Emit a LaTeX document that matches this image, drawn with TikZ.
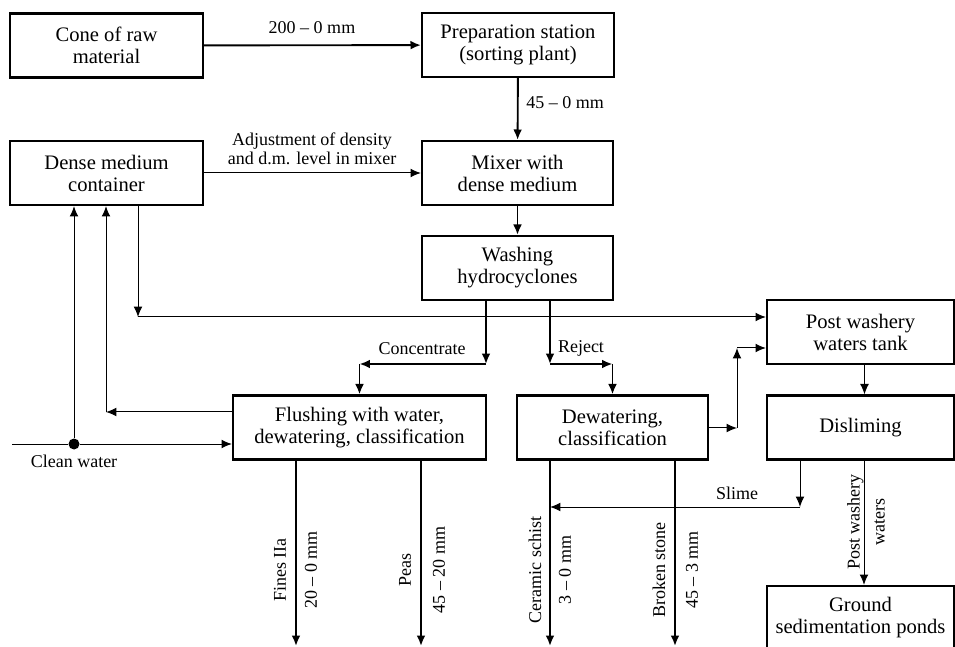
\documentclass[tikz,border=0pt]{standalone}
\usepackage{fontspec}
\setmainfont{Liberation Serif}
\usetikzlibrary{arrows.meta}

\tikzset{
	kasten/.style={draw,line width=1.1pt,minimum width=#1,minimum height=32pt,inner sep=1pt,align=center,font=\fontsize{10.3}{11}\selectfont},
	schrift/.style={inner sep=1pt,align=center,font=\fontsize{9}{9.5}\selectfont},
	duenn/.style={line width=0.5pt},
	punkt/.style={circle,fill,inner sep=0pt,minimum size=5.5pt},
}

\begin{document}
\begin{tikzpicture}[>={Latex[length=5.2pt,width=4.4pt]},line width=0.95pt,x=0.5pt,y=-0.5pt]

\clip (0,0) rectangle (955,647);

\node[kasten=96.5pt] (cone) at (106.5,45.5) {Cone of raw\\material};
\node[kasten=96pt] (prep) at (518,45) {Preparation station\\(sorting plant)};
\node[kasten=96.5pt] (dmc) at (106.5,173) {Dense medium\\container};
\node[kasten=95.5pt] (mixer) at (517.5,173) {Mixer with\\dense medium};
\node[kasten=95.5pt] (hydro) at (517.5,268) {Washing\\hydrocyclones};
\node[kasten=93.5pt] (tank) at (860.5,332) {Post washery\\waters tank};
\node[kasten=126.5pt] (flush) at (359.5,427.5) {Flushing with water,\\dewatering, classification};
\node[kasten=95.5pt] (dewat) at (612.5,427.5) {Dewatering,\\classification};
\node[kasten=93.5pt] (deslime) at (860.5,427.5) {Disliming};
\node[kasten=93.5pt] (ponds) at (860.5,618) {Ground\\sedimentation ponds};

\draw[->] (cone) -- (prep);
\node[schrift] (l200) at (312,28) {200 – 0 mm};
\draw[->] (prep) -- (mixer);
\node[schrift] (l45) at (565,103) {45 – 0 mm};
\draw[->] (mixer) -- (hydro);
\draw[->,duenn] (dmc) -- (mixer);
\node[schrift] (ladj) at (312,149) {Adjustment of density\\and d.m. level in mixer};

\coordinate (c1) at (486,364);
\coordinate (c2) at (359.5,364);
\draw[->] (c1 |- hydro.south) -- (c1);
\draw[->] (c1) -- (c2);
\draw[->] (c2) -- (flush.north);
\node[schrift] (lconc) at (422,349) {Concentrate};

\coordinate (r1) at (550,364);
\coordinate (r2) at (612.5,364);
\draw[->] (r1 |- hydro.south) -- (r1);
\draw[->] (r1) -- (r2);
\draw[->] (r2) -- (dewat.north);
\node[schrift] (lrej) at (581,348) {Reject};

\coordinate (d1) at (138,317);
\draw[->,duenn] (d1 |- dmc.south) -- (d1);
\draw[->,duenn] (d1) -- (d1 -| tank.west);

\coordinate (f1) at (106,412);
\draw[->,duenn] (f1 -| flush.west) -- (f1);
\draw[->,duenn] (f1) -- (f1 |- dmc.south);

\coordinate (w0) at (12,444);
\node[punkt] (cw) at (74,444) {};
\draw[duenn] (w0) -- (cw);
\draw[->,duenn] (cw) -- (cw -| flush.west);
\draw[->,duenn] (cw) -- (cw |- dmc.south);
\node[schrift] (lcw) at (74,461) {Clean water};

\coordinate (t1) at (737,428);
\coordinate (t2) at (737,348);
\draw[->,duenn] (t1 -| dewat.east) -- (t1);
\draw[->,duenn] (t1) -- (t2);
\draw[->,duenn] (t2) -- (t2 -| tank.west);

\draw[->,duenn] ([xshift=2pt]tank.south) -- ([xshift=2pt]deslime.north);

\coordinate (s1) at (800,507);
\coordinate (s2) at (550,507);
\draw[->,duenn] (s1 |- deslime.south) -- (s1);
\draw[->,duenn] (s1) -- (s2);
\node[schrift] (lslime) at (737,493) {Slime};

\draw[->,duenn] ([xshift=1.75pt]deslime.south) -- ([xshift=1.75pt]ponds.north);
\node[schrift,rotate=90,font=\fontsize{9}{12.5}\selectfont] (lpww) at (866,522) {Post washery\\waters};

\foreach \x/\n in {296/flush,421/flush,550/dewat,675/dewat}{
	\coordinate (o\x) at (\x,646);
	\draw[->] (o\x |- \n.south) -- (o\x);
}

\foreach \x/\t in {280/Fines IIa,311/20 – 0 mm,405/Peas,439/45 – 20 mm,535/Ceramic schist,565/3 – 0 mm,659/Broken stone,692/45 – 3 mm}
	\node[schrift,rotate=90] (p\x) at (\x,570) {\t};

\end{tikzpicture}
\end{document}
